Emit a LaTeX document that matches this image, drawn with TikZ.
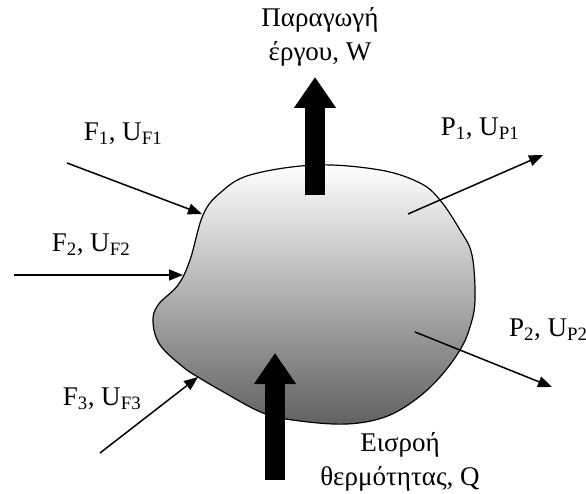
\documentclass[tikz,border=0pt]{standalone}
\usepackage{fontspec}
\setmainfont{Liberation Serif}
\usetikzlibrary{arrows.meta}

\begin{document}
\begin{tikzpicture}[
  x=1pt, y=-1pt,
  lbl/.style={font=\fontsize{27}{34}\selectfont, align=center, inner sep=0pt},
  flow/.style={line width=1.5pt, -{Triangle[length=14pt,width=11pt]}},
  energy/.style={line width=20pt, -{Triangle[length=31pt,width=40pt]}}
]
  \useasboundingbox (0,0) rectangle (586,494);

  % control volume
  \draw[line width=1.2pt, top color=white, middle color=black!16, bottom color=black!62]
    plot[smooth cycle, tension=0.6] coordinates {
      (315,165) (380,170) (420,183) (440,200) (460,230) (472,255) (475,300)
      (470,327) (460,350) (440,377) (415,400) (385,417) (347,424) (300,421)
      (263,413) (220,390) (198,377) (183,367) (160,345) (153,322) (158,305)
      (178,285) (190,260) (203,215) (220,193) (250,175)};

  % end points of the streams
  \coordinate (f1s) at (67,163);  \coordinate (f1e) at (202,214);
  \coordinate (f2s) at (14,275);  \coordinate (f2e) at (183,275);
  \coordinate (f3s) at (100,453); \coordinate (f3e) at (198,377);
  \coordinate (p1s) at (408,214); \coordinate (p1e) at (543,155);
  \coordinate (p2s) at (415,332); \coordinate (p2e) at (552,387);
  \coordinate (ws) at (315,195);  \coordinate (we) at (315,77);
  \coordinate (qs) at (275,480);  \coordinate (qe) at (275,353);

  % feeds and products
  \draw[flow] (f1s) -- (f1e);
  \draw[flow] (f2s) -- (f2e);
  \draw[flow] (f3s) -- (f3e);
  \draw[flow] (p1s) -- (p1e);
  \draw[flow] (p2s) -- (p2e);

  % work and heat
  \draw[energy] (ws) -- (we);
  \draw[energy] (qs) -- (qe);

  % labels
  \node[lbl] (work) at (320,37) {Παραγωγή\\έργου, W};
  \node[lbl] (heat) at (400,462) {Εισροή\\θερμότητας, Q};
  \node[lbl] (f1) at (123,134) {F\textsubscript{1}, U\textsubscript{F1}};
  \node[lbl] (f2) at (91,245) {F\textsubscript{2}, U\textsubscript{F2}};
  \node[lbl] (f3) at (102,399) {F\textsubscript{3}, U\textsubscript{F3}};
  \node[lbl] (p1) at (480,129) {P\textsubscript{1}, U\textsubscript{P1}};
  \node[lbl, anchor=west] (p2) at (509,330) {P\textsubscript{2}, U\textsubscript{P2}};
\end{tikzpicture}
\end{document}
